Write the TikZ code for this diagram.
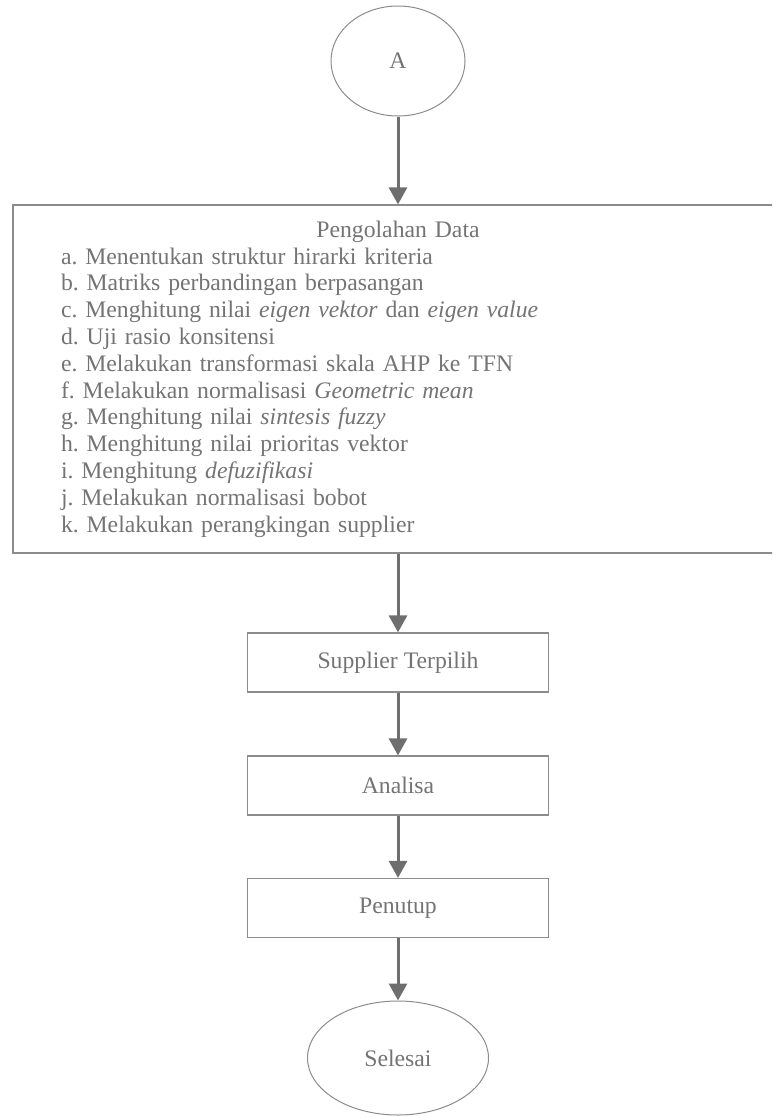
\documentclass[tikz,border=0pt]{standalone}
\usepackage{fontspec}
\setmainfont{Liberation Serif}
\usetikzlibrary{shapes,arrows,arrows.meta}
\definecolor{boxgray}{HTML}{8C8C8C}
\definecolor{textgray}{HTML}{747474}
\definecolor{arrowgray}{HTML}{6E6E6E}
\newcommand{\flowfont}{\fontsize{23.7}{26.8}\selectfont\frenchspacing}
\tikzstyle{terminal} = [ellipse, draw=boxgray, line width=1pt,
    text=textgray, font=\flowfont, inner sep=0pt]
\tikzstyle{block} = [rectangle, draw=boxgray, line width=1.2pt,
    text=textgray, font=\flowfont, minimum width=301pt, minimum height=59pt, inner sep=0pt]
\tikzstyle{bigblock} = [rectangle, draw=boxgray, line width=1.2pt,
    text=textgray, font=\flowfont, minimum width=770pt, minimum height=348pt,
    inner xsep=48pt, text width=674pt]
\tikzstyle{line} = [draw=arrowgray, line width=3pt, -{Triangle[length=17pt,width=18pt]}]

\begin{document}
\begin{tikzpicture}[x=1pt, y=-1pt]
    \clip (0,0) rectangle (772,1117);
    % Place nodes
    \node [terminal, minimum width=134pt, minimum height=110pt] (A) at (398,61) {A};
    \node [bigblock, below of=A, node distance=318pt] (olah) {\centering Pengolahan Data\par
        \raggedright a. Menentukan struktur hirarki kriteria\\
        b. Matriks perbandingan berpasangan\\
        c. Menghitung nilai \textit{eigen vektor} dan \textit{eigen value}\\
        d. Uji rasio konsitensi\\
        e. Melakukan transformasi skala AHP ke TFN\\
        f. Melakukan normalisasi \textit{Geometric mean}\\
        g. Menghitung nilai \textit{sintesis fuzzy}\\
        h. Menghitung nilai prioritas vektor\\
        i. Menghitung \textit{defuzifikasi}\\
        j. Melakukan normalisasi bobot\\
        k. Melakukan perangkingan supplier};
    \node [block, below of=olah, node distance=283.5pt] (pilih) {Supplier Terpilih};
    \node [block, below of=pilih, node distance=123pt] (analisa) {Analisa};
    \node [block, below of=analisa, node distance=122.5pt] (tutup) {Penutup};
    \node [terminal, below of=tutup, node distance=150pt, minimum width=181pt, minimum height=114pt] (selesai) {Selesai};
    % Draw edges
    \path [line] (A) -- (olah);
    \path [line] (olah) -- (pilih);
    \path [line] (pilih) -- (analisa);
    \path [line] (analisa) -- (tutup);
    \path [line] (tutup) -- (selesai);
\end{tikzpicture}
\end{document}
